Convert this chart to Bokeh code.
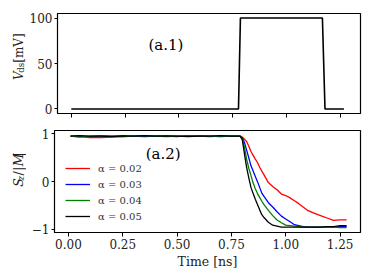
import math
from bokeh.plotting import figure
from bokeh.layouts import column, row
from bokeh.models import Range1d, FixedTicker, Label, Legend, LegendItem, NumeralTickFormatter
from bokeh.embed import file_html
from bokeh.resources import INLINE

# ---------------- data ----------------
pulse_t = [0.0, 0.777, 0.786, 1.167, 1.179, 1.267]
pulse_v = [0, 0, 100, 100, 0, 0]

time_ns = [0.01, 0.05, 0.10, 0.15, 0.20, 0.25, 0.30, 0.35, 0.40, 0.45, 0.50, 0.55, 0.60, 0.65, 0.70, 0.75,
           0.79, 0.80, 0.81, 0.82, 0.83, 0.84, 0.85, 0.86, 0.87, 0.88, 0.89, 0.90,
           0.92, 0.94, 0.96, 0.98, 1.00, 1.02, 1.04, 1.06, 1.08, 1.10,
           1.13, 1.16, 1.19, 1.22, 1.25, 1.28]

sz_a002 = [0.95, 0.94, 0.92, 0.92, 0.93, 0.94, 0.95, 0.95, 0.95, 0.96, 0.95, 0.95, 0.95, 0.94, 0.95, 0.95,
           0.95, 0.93, 0.89, 0.84, 0.74, 0.63, 0.55, 0.47, 0.40, 0.30, 0.22, 0.14,
           -0.02, -0.10, -0.17, -0.26, -0.29, -0.34, -0.40, -0.46, -0.53, -0.60,
           -0.66, -0.71, -0.76, -0.81, -0.80, -0.80]
sz_a003 = [0.95, 0.95, 0.94, 0.95, 0.95, 0.96, 0.95, 0.94, 0.95, 0.95, 0.94, 0.96, 0.95, 0.95, 0.94, 0.95,
           0.95, 0.92, 0.82, 0.66, 0.50, 0.33, 0.22, 0.11, 0.00, -0.12, -0.24, -0.31,
           -0.44, -0.53, -0.63, -0.72, -0.78, -0.84, -0.90, -0.92, -0.94, -0.95,
           -0.95, -0.95, -0.95, -0.95, -0.94, -0.94]
sz_a004 = [0.95, 0.93, 0.95, 0.96, 0.95, 0.94, 0.95, 0.96, 0.95, 0.94, 0.95, 0.95, 0.96, 0.95, 0.95, 0.95,
           0.95, 0.90, 0.72, 0.47, 0.28, 0.13, -0.03, -0.15, -0.25, -0.33, -0.41, -0.48,
           -0.60, -0.71, -0.80, -0.86, -0.91, -0.92, -0.93, -0.94, -0.95, -0.95,
           -0.95, -0.95, -0.95, -0.95, -0.96, -0.96]
sz_a005 = [0.95, 0.96, 0.95, 0.95, 0.94, 0.95, 0.95, 0.96, 0.95, 0.95, 0.95, 0.94, 0.95, 0.95, 0.96, 0.95,
           0.95, 0.88, 0.58, 0.30, 0.08, -0.12, -0.25, -0.37, -0.48, -0.59, -0.69, -0.75,
           -0.85, -0.91, -0.93, -0.95, -0.95, -0.95, -0.95, -0.95, -0.95, -0.95,
           -0.95, -0.95, -0.94, -0.94, -0.92, -0.92]

series_labels = ["α = 0.02", "α = 0.03", "α = 0.04", "α = 0.05"]
series_colors = ["#ff0000", "#0000ff", "#008000", "#000000"]
x_ticks = [0.0, 0.25, 0.5, 0.75, 1.0, 1.25]
y1_ticks = [0, 50, 100]
y2_ticks = [-1, 0, 1]

# ---------------- layout ----------------
FONT = "DejaVu Serif"
TXT = "#222222"
LW = 26            # width of the y-label strip
W = 346            # main figure width
ML, MR = 28, 12    # frame left at 54, right at 360
X0, X1 = -0.064, 1.344

T1, FH1, B1 = 13, 100, 12
H1 = T1 + FH1 + B1
Y1A, Y1B = -5, 105

T2, FH2, B2 = 5, 102, 40
H2 = T2 + FH2 + B2
Y2A, Y2B = -1.063, 1.069


def style(p):
    p.outline_line_color = "black"
    p.outline_line_width = 1.2
    p.xgrid.visible = False
    p.ygrid.visible = False
    for ax in (p.xaxis[0], p.yaxis[0]):
        ax.axis_line_color = "black"
        ax.major_tick_line_color = "black"
        ax.major_tick_in = 0
        ax.minor_tick_line_color = None
        ax.major_label_text_font = FONT
        ax.major_label_text_font_size = "12px"
        ax.major_label_text_color = TXT
        ax.major_label_standoff = 2
    p.xaxis.major_tick_out = 4
    p.yaxis.major_tick_out = 3
    p.background_fill_color = "white"
    p.border_fill_color = "white"


def label_strip(height, parts, start_sy):
    """A narrow figure that holds a rotated, multi-part axis title."""
    s = figure(width=LW, height=height, output_backend="svg", toolbar_location=None,
               x_range=Range1d(0, LW), y_range=Range1d(0, height),
               x_axis_location=None, y_axis_location=None,
               min_border_left=0, min_border_right=0, min_border_top=0, min_border_bottom=0)
    s.outline_line_color = None
    s.xgrid.visible = False
    s.ygrid.visible = False
    sy = start_sy
    for txt, fs, st, bx, adv in parts:
        s.add_layout(Label(x=bx, y=height - sy, text=txt, angle=math.pi / 2, text_font=FONT,
                           text_font_size=fs, text_font_style=st, text_baseline="alphabetic",
                           text_align="left", text_color=TXT))
        sy -= adv
    return s


BASE_X, SUB_X = 18.0, 20.5

# ---- top panel ----
p1 = figure(width=W, height=H1, output_backend="svg", toolbar_location=None,
            x_range=Range1d(X0, X1), y_range=Range1d(Y1A, Y1B),
            min_border_left=ML, min_border_right=MR, min_border_top=T1, min_border_bottom=B1)
style(p1)
p1.xaxis.ticker = FixedTicker(ticks=x_ticks)
p1.xaxis.major_label_text_color = None
p1.xaxis.major_label_text_font_size = "1px"
p1.xaxis.major_label_standoff = 0
p1.yaxis.ticker = FixedTicker(ticks=y1_ticks)
p1.line(pulse_t, pulse_v, line_color="black", line_width=1.6)
p1.add_layout(Label(x=0.44, y=70, text="(a.1)", text_font=FONT, text_font_size="15px",
                    text_align="center", text_baseline="middle", text_color="black"))

lab1 = label_strip(H1, [("V", "12px", "italic", BASE_X, 9.0),
                        ("ds", "8.5px", "normal", SUB_X, 12.5),
                        ("[mV]", "12px", "normal", BASE_X, 0)], 83.0)

# ---- bottom panel ----
p2 = figure(width=W, height=H2, output_backend="svg", toolbar_location=None,
            x_range=Range1d(X0, X1), y_range=Range1d(Y2A, Y2B),
            min_border_left=ML, min_border_right=MR, min_border_top=T2, min_border_bottom=B2)
style(p2)
p2.xaxis.ticker = FixedTicker(ticks=x_ticks)
p2.xaxis.formatter = NumeralTickFormatter(format="0.00")
p2.yaxis.ticker = FixedTicker(ticks=y2_ticks)
p2.yaxis.major_label_overrides = {-1: "−1", 0: "0", 1: "1"}
p2.xaxis.axis_label = "Time [ns]"
p2.xaxis.axis_label_text_font = FONT
p2.xaxis.axis_label_text_font_size = "12.5px"
p2.xaxis.axis_label_text_font_style = "normal"
p2.xaxis.axis_label_text_color = TXT
p2.xaxis.axis_label_standoff = 2

items = []
for ys, lab, col in zip([sz_a002, sz_a003, sz_a004, sz_a005], series_labels, series_colors):
    r = p2.line(time_ns, ys, line_color=col, line_width=1.3)
    items.append(LegendItem(label=lab, renderers=[r]))

leg = Legend(items=items, location=(11, 8), padding=0, spacing=0, margin=0,
             glyph_height=16, glyph_width=25, label_height=16, label_standoff=8,
             label_text_font=FONT, label_text_font_size="10px", label_text_color="#333333",
             background_fill_alpha=0, border_line_color=None)
p2.add_layout(leg)
p2.add_layout(Label(x=0.436, y=0.57, text="(a.2)", text_font=FONT, text_font_size="15px",
                    text_align="center", text_baseline="middle", text_color="black"))

lab2 = label_strip(H2, [("S", "12.5px", "italic", BASE_X, 9.0),
                        ("z", "8.5px", "italic", SUB_X, 7.0),
                        ("/", "12.5px", "normal", BASE_X, 7.0),
                        ("|", "12.5px", "normal", BASE_X, 6.5),
                        ("M", "12.5px", "italic", BASE_X, 14.0),
                        ("|", "12.5px", "normal", BASE_X, 0)], 206.0 - H1)

layout = column(row(lab1, p1, spacing=0), row(lab2, p2, spacing=0), spacing=0)
open("out.html", "w").write(file_html(layout, INLINE))
